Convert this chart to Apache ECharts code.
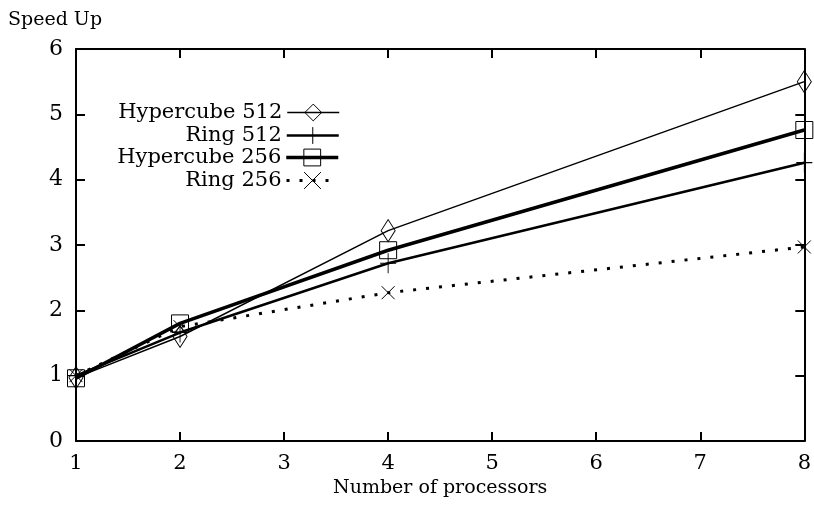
<!DOCTYPE html>
<html><head><meta charset="utf-8">
<script src="https://cdn.jsdelivr.net/npm/echarts@6/dist/echarts.min.js"></script>
<style>html,body{margin:0;padding:0;background:#fff}#c{width:814px;height:507px}</style>
</head><body><div id="c"></div>
<script>
const procs = [1, 2, 4, 8];
const hypercube512 = [0.97, 1.6, 3.22, 5.5];
const ring512 = [1.0, 1.66, 2.72, 4.26];
const hypercube256 = [0.96, 1.8, 2.92, 4.76];
const ring256 = [1.0, 1.75, 2.27, 2.97];
const seriesNames = ['Hypercube 512', 'Ring 512', 'Hypercube 256', 'Ring 256'];
const xTicks = [1, 2, 3, 4, 5, 6, 7, 8];
const yTicks = [0, 1, 2, 3, 4, 5, 6];

const FONT = 'DejaVu Serif';
const pair = (vals) => procs.map((p, i) => [p, vals[i]]);
const PLUS = 'path://M0,0L0,20M-8,10L8,10';
const CROSS = 'path://M0,0L10,10M0,10L10,0';

const hollow = {color: 'rgba(0,0,0,0)', borderColor: '#000', borderWidth: 1};

function mkSeries(name, vals, symbol, size, lineStyle) {
  return {
    name: name, type: 'line', data: pair(vals),
    symbol: symbol, symbolSize: size, showSymbol: true,
    itemStyle: hollow, lineStyle: Object.assign({color: '#000'}, lineStyle),
    emphasis: {disabled: true}, animation: false
  };
}

const legendTops = [102, 125, 147, 170];
const legends = seriesNames.map((n, i) => ({
  data: [n], orient: 'vertical', right: 474, top: legendTops[i], padding: 0,
  align: 'right', itemWidth: 52, itemHeight: 21, selectedMode: false,
  lineStyle: {width: 'inherit', type: 'inherit', color: 'inherit'},
  itemStyle: {color: 'inherit', borderColor: 'inherit', borderWidth: 'inherit'},
  textStyle: {fontFamily: FONT, fontSize: 21, color: '#000'}
}));

const axisCommon = {
  type: 'value', splitLine: {show: false},
  axisLine: {show: true, onZero: false, lineStyle: {color: '#000', width: 2}},
  axisTick: {show: true, inside: true, length: 9, lineStyle: {color: '#000', width: 2}}
};

const option = {
  backgroundColor: '#fff',
  animation: false,
  title: {text: 'Speed Up', left: 8, top: 11, padding: 0,
    textStyle: {fontFamily: FONT, fontSize: 19, fontWeight: 'normal', color: '#000'}},
  legend: legends,
  grid: {left: 76, right: 8, top: 49, bottom: 66},
  xAxis: [
    Object.assign({}, axisCommon, {min: 1, max: 8, interval: 1, position: 'bottom',
      name: 'Number of processors', nameLocation: 'middle', nameGap: 36,
      nameTextStyle: {fontFamily: FONT, fontSize: 19, color: '#000'},
      axisLabel: {fontFamily: FONT, fontSize: 21, color: '#000', margin: 12,
        formatter: v => xTicks.includes(v) ? String(v) : ''}}),
    Object.assign({}, axisCommon, {min: 1, max: 8, interval: 1, position: 'top',
      axisLabel: {show: false}})
  ],
  yAxis: [
    Object.assign({}, axisCommon, {min: 0, max: 6, interval: 1, position: 'left',
      axisLabel: {fontFamily: FONT, fontSize: 22, color: '#000', margin: 13,
        formatter: v => yTicks.includes(v) ? String(v) : ''}}),
    Object.assign({}, axisCommon, {min: 0, max: 6, interval: 1, position: 'right',
      axisLabel: {show: false}})
  ],
  series: [
    mkSeries(seriesNames[0], hypercube512, 'diamond', [14, 22], {width: 1.5}),
    mkSeries(seriesNames[1], ring512, PLUS, [16, 20], {width: 2.5}),
    mkSeries(seriesNames[2], hypercube256, 'rect', 17, {width: 3.5}),
    mkSeries(seriesNames[3], ring256, CROSS, 13, {width: 3, type: [3, 10]})
  ]
};
const chart = echarts.init(document.getElementById('c'), null, {renderer: 'canvas'});
chart.setOption(option);
</script></body></html>
